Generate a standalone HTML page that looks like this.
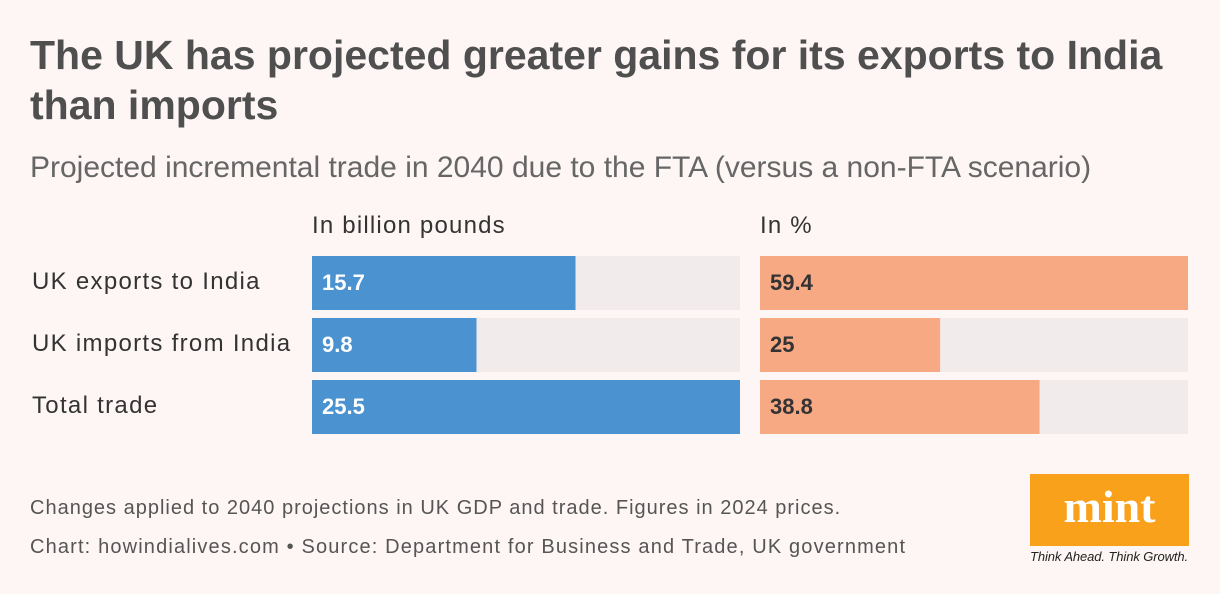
<!DOCTYPE html>
<html><head><meta charset="utf-8"><style>
body{margin:0;width:1220px;height:594px;background:#fdf6f5;font-family:"Liberation Sans",sans-serif;position:relative;overflow:hidden;color:#505050}
.a{position:absolute;white-space:nowrap}
</style></head><body>
<div class="a" style="left:30px;top:30px;font-size:41px;font-weight:bold;line-height:50px;color:#4f4f4f">The UK has projected greater gains for its exports to India<br>than imports</div>
<div class="a" style="left:30px;top:151px;font-size:30px;color:#666">Projected incremental trade in 2040 due to the FTA (versus a non-FTA scenario)</div>
<div class="a" style="left:312px;top:212px;font-size:24px;color:#333;letter-spacing:1.2px">In billion pounds</div>
<div class="a" style="left:760px;top:212px;font-size:24px;color:#333;letter-spacing:1.2px">In %</div>
<svg id="chart" width="1220" height="594" style="position:absolute;left:0;top:0"></svg>
<div class="a" style="left:30px;top:497px;font-size:20px;color:#555;letter-spacing:1px">Changes applied to 2040 projections in UK GDP and trade. Figures in 2024 prices.</div>
<div class="a" style="left:30px;top:536px;font-size:20px;color:#555;letter-spacing:1.15px">Chart: howindialives.com • Source: Department for Business and Trade, UK government</div>
<div class="a" style="left:1030px;top:474px;width:159px;height:72px;background:#f9a11b;color:#fff;font-family:'Liberation Serif',serif;font-weight:bold;font-size:46px;text-align:center;line-height:66px">mint</div>
<div class="a" style="left:1030px;top:549px;font-size:13px;font-style:italic;color:#222;letter-spacing:-0.1px">Think Ahead. Think Growth.</div>
<script>
const categories=["UK exports to India","UK imports from India","Total trade"];
const billions=[15.7,9.8,25.5];
const billionLabels=["15.7","9.8","25.5"];
const percents=[59.4,25,38.8];
const percentLabels=["59.4","25","38.8"];
const svg=document.getElementById('chart');
const NS='http://www.w3.org/2000/svg';
const W=428,rowY=i=>256+i*62,H=54;
const maxB=Math.max(...billions),maxP=Math.max(...percents);
const xB=v=>v/maxB*W, xP=v=>v/maxP*W;
function mk(t,a){const e=document.createElementNS(NS,t);for(const k in a)e.setAttribute(k,a[k]);svg.appendChild(e);return e;}
categories.forEach((c,i)=>{
 const y=rowY(i);
 let t=mk('text',{x:32,y:y+33,'font-size':24,fill:'#333','letter-spacing':1.3});t.textContent=c;
 
 
 let bg=mk('rect',{x:312,y:y,width:W,height:H,fill:'#f1eceb'});
 
 
 let b=mk('rect',{x:312,y:y,width:xB(billions[i]),height:H,fill:'#4a92d0'});
 
 
 let l=mk('text',{x:322,y:y+34,'font-size':22,'font-weight':'bold',fill:'#fff'});l.textContent=billionLabels[i];
 
 
 let bg2=mk('rect',{x:760,y:y,width:W,height:H,fill:'#f1eceb'});
 
 
 let b2=mk('rect',{x:760,y:y,width:xP(percents[i]),height:H,fill:'#f7a983'});
 
 
 let l2=mk('text',{x:770,y:y+34,'font-size':22,'font-weight':'bold',fill:'#333'});l2.textContent=percentLabels[i];
 
 
});
</script>
</body></html>
